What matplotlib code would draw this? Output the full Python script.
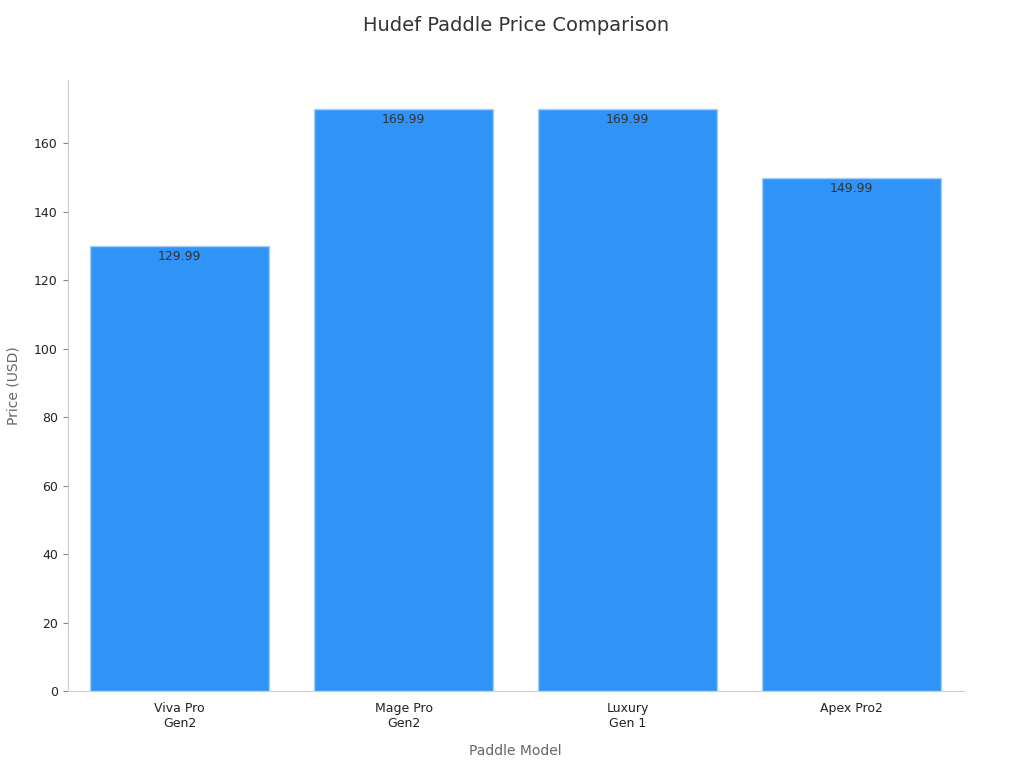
import matplotlib.pyplot as plt

models = ["Viva Pro\nGen2", "Mage Pro\nGen2", "Luxury\nGen 1", "Apex Pro2"]
prices = [129.99, 169.99, 169.99, 149.99]

fig, ax = plt.subplots(figsize=(10.24, 7.68), dpi=100)
fig.subplots_adjust(left=0.066, right=0.941, top=0.896, bottom=0.1)

bars = ax.bar(range(len(models)), prices, width=0.8, color="#2F93F8",
              edgecolor="#A8CFF5", linewidth=1)
for b, p in zip(bars, prices):
    ax.text(b.get_x() + b.get_width() / 2, p - 1.2, f"{p:.2f}",
            ha="center", va="top", fontsize=9, color="#333333")

ax.set_xlim(-0.5, 3.5)
ax.set_ylim(0, 178.5)
ax.set_xticks(range(len(models)))
ax.set_xticklabels(models, fontsize=9, color="#222222")
ax.tick_params(axis="y", labelsize=9, labelcolor="#222222", color="#888888")
ax.tick_params(axis="x", length=0, pad=8)
ax.set_xlabel("Paddle Model", fontsize=10, color="#666666", labelpad=10)
ax.set_ylabel("Price (USD)", fontsize=10, color="#666666", labelpad=10)
ax.set_title("Hudef Paddle Price Comparison", fontsize=14, color="#333333", pad=35)

for s in ["top", "right"]:
    ax.spines[s].set_visible(False)
for s in ["left", "bottom"]:
    ax.spines[s].set_color("#CCCCCC")

fig.savefig("out.png", dpi=100)
